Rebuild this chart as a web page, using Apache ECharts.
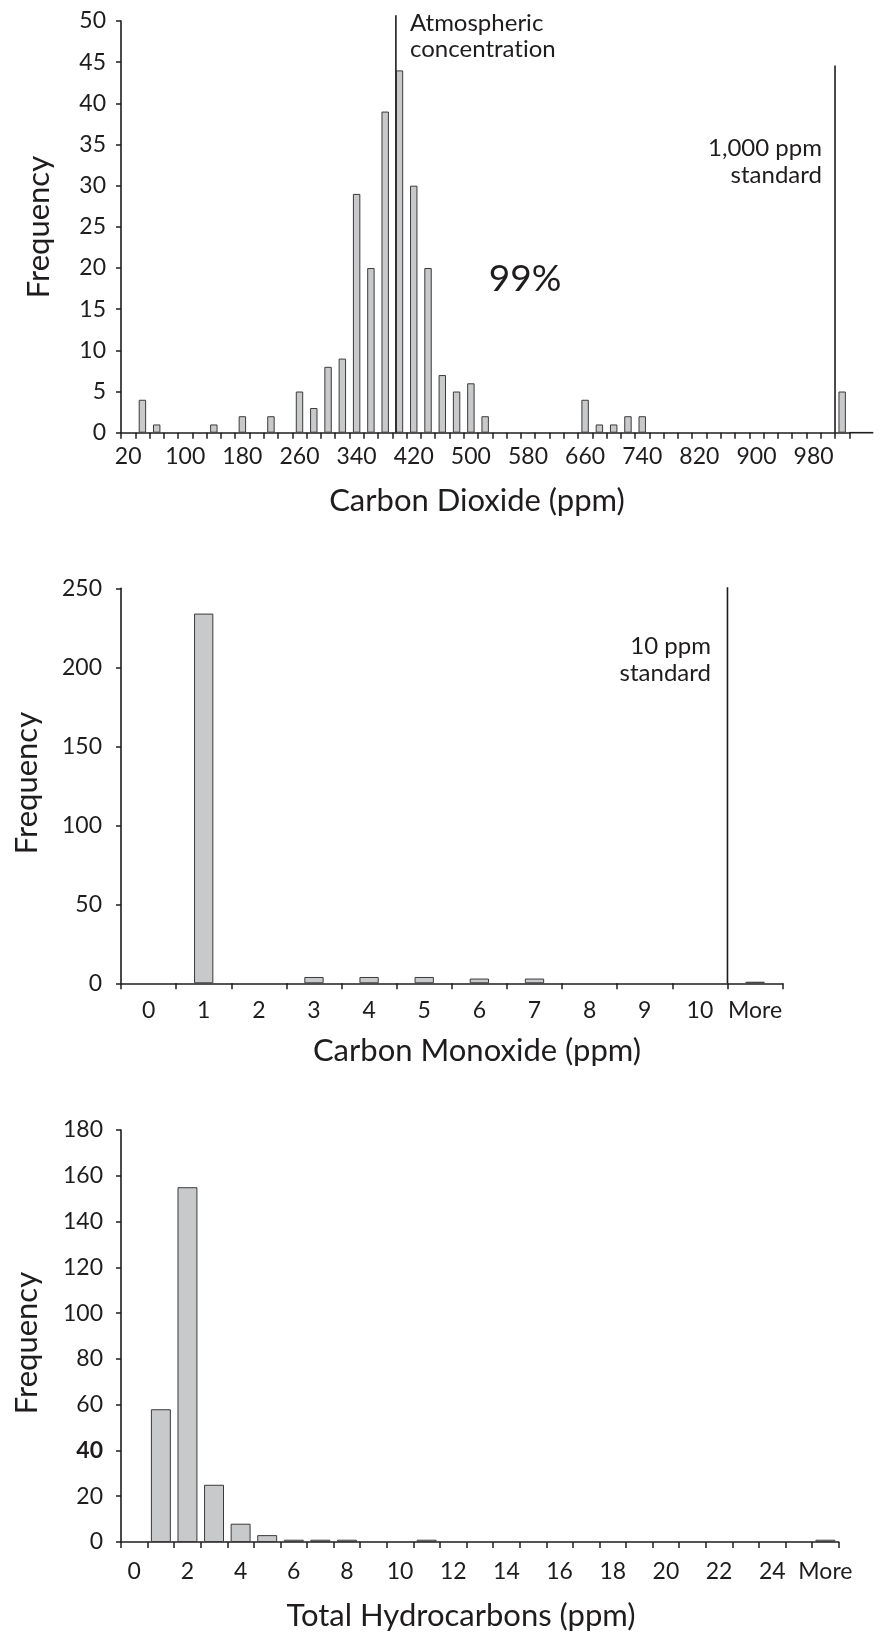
<!DOCTYPE html>
<html>
<head>
<meta charset="utf-8">
<title>Indoor air quality histograms</title>
<script src="https://cdn.jsdelivr.net/npm/echarts@6/dist/echarts.min.js"></script>
<style>
  html, body { margin: 0; padding: 0; background: #ffffff; }
  #chart { width: 883px; height: 1648px; }
</style>
</head>
<body>
<div id="chart"></div>
<script>
// ---- Carbon dioxide: bins of 20 ppm, labelled by their upper edge ----
const co2Bins = [];
for (let b = 20; b <= 1000; b += 20) co2Bins.push(String(b));
co2Bins.push('More');
const co2Freq = [
  0, 4, 1, 0, 0, 0, 1, 0, 2, 0,
  2, 0, 5, 3, 8, 9, 29, 20, 39, 44,
  30, 20, 7, 5, 6, 2, 0, 0, 0, 0,
  0, 0, 4, 1, 1, 2, 2, 0, 0, 0,
  0, 0, 0, 0, 0, 0, 0, 0, 0, 0,
  5
];
const co2Atmospheric = 385;   // ppm
const co2Standard = 1000;     // ppm

// ---- Carbon monoxide: 1 ppm bins ----
const coBins = ['0', '1', '2', '3', '4', '5', '6', '7', '8', '9', '10', 'More'];
const coFreq = [0, 234, 0, 4, 4, 4, 3, 3, 0, 0, 0, 1];
const coStandard = 10;        // ppm

// ---- Total hydrocarbons: 1 ppm bins ----
const thcBins = [];
for (let b = 0; b <= 25; b++) thcBins.push(String(b));
thcBins.push('More');
const thcFreq = [
  0, 58, 155, 25, 8, 3, 1, 1, 1, 0,
  0, 1, 0, 0, 0, 0, 0, 0, 0, 0,
  0, 0, 0, 0, 0, 0, 1
];

// ---- styling ----
const INK = '#1f1c1d';
const FONT = 'Lato, "Noto Sans", sans-serif';
const TICK_FONT = 23;
const TITLE_FONT = 31;
const NOTE_FONT = 24;
const BAR_STYLE = { color: '#c8c9cb', borderColor: '#3a3a3a', borderWidth: 1 };

// empty bins draw nothing
const bars = arr => arr.map(v => (v === 0 ? '-' : v));

function catAxis(gridIndex, data, labelInterval, labelMargin) {
  return {
    type: 'category', gridIndex, data,
    boundaryGap: true,
    axisLine: { show: true, lineStyle: { color: INK, width: 1.6 } },
    axisTick: { show: true, interval: 0, length: 6, lineStyle: { color: INK, width: 1.5 } },
    axisLabel: { interval: labelInterval, margin: labelMargin, color: INK, fontFamily: FONT, fontSize: TICK_FONT },
    splitLine: { show: false }
  };
}
function valAxis(gridIndex, max, interval, labelMargin, extraLabel) {
  return {
    type: 'value', gridIndex, min: 0, max, interval,
    axisLine: { show: true, onZero: false, lineStyle: { color: INK, width: 1.6 } },
    axisTick: { show: true, length: 5, lineStyle: { color: INK, width: 1.5 } },
    axisLabel: Object.assign(
      { margin: labelMargin, color: INK, fontFamily: FONT, fontSize: TICK_FONT },
      extraLabel || {}
    ),
    splitLine: { show: false }
  };
}
// hidden value axis measured in ppm, spanning the bins edge to edge
function ppmAxis(gridIndex, min, max) {
  return { type: 'value', gridIndex, min, max, show: false };
}
function vline(xAxisIndex, yAxisIndex, x, top) {
  return {
    type: 'line', xAxisIndex, yAxisIndex, clip: false, silent: true,
    symbol: 'none', animation: false,
    lineStyle: { color: INK, width: 1.6 },
    data: [[x, 0], [x, top]]
  };
}
function text(x, y, str, size, align, rotation) {
  return {
    type: 'text', x, y, rotation: rotation || 0,
    style: {
      text: str, fill: INK, font: size + 'px ' + FONT,
      textAlign: align || 'center', textVerticalAlign: 'middle'
    }
  };
}

const chart = echarts.init(document.getElementById('chart'), null, { renderer: 'canvas' });

const option = {
  animation: false,
  backgroundColor: '#ffffff',
  grid: [
    { left: 121, top: 21, width: 728.3, height: 411.7 },
    { left: 121, top: 588.3, width: 661.6, height: 395 },
    { left: 121, top: 1130, width: 717.7, height: 412 }
  ],
  xAxis: [
    catAxis(0, co2Bins, 3, 12),
    catAxis(1, coBins, 0, 16),
    catAxis(2, thcBins, 1, 18),
    ppmAxis(0, 0, co2Bins.length * 20),
    ppmAxis(1, -1, coBins.length - 1)
  ],
  yAxis: [
    valAxis(0, 50, 5, 15),
    valAxis(1, 250, 50, 19),
    valAxis(2, 180, 20, 18, {
      formatter: v => (v === 40 ? '{b|40}' : String(v)),
      rich: { b: { fontWeight: 'bold', fontFamily: FONT, fontSize: TICK_FONT, color: INK } }
    })
  ],
  series: [
    { type: 'bar', xAxisIndex: 0, yAxisIndex: 0, data: bars(co2Freq), barWidth: '52%', itemStyle: BAR_STYLE },
    { type: 'bar', xAxisIndex: 1, yAxisIndex: 1, data: bars(coFreq), barWidth: '35%', itemStyle: BAR_STYLE },
    { type: 'bar', xAxisIndex: 2, yAxisIndex: 2, data: bars(thcFreq), barWidth: '75%', itemStyle: BAR_STYLE },
    vline(3, 0, co2Atmospheric, 50.7),
    vline(3, 0, co2Standard, 44.6),
    vline(4, 1, coStandard, 250.6)
  ],
  graphic: [
    // axis titles
    text(39, 227, 'Frequency', TITLE_FONT, 'center', Math.PI / 2),
    text(477, 501, 'Carbon Dioxide (ppm)', TITLE_FONT),
    text(27, 783, 'Frequency', TITLE_FONT, 'center', Math.PI / 2),
    text(477, 1051, 'Carbon Monoxide (ppm)', TITLE_FONT),
    text(27, 1343, 'Frequency', TITLE_FONT, 'center', Math.PI / 2),
    text(461, 1616, 'Total Hydrocarbons (ppm)', TITLE_FONT),
    // annotations
    text(410, 23, 'Atmospheric', NOTE_FONT, 'left'),
    text(410, 49, 'concentrat\u200Cion', NOTE_FONT, 'left'),
    text(525, 279, '99%', 37),
    text(822, 148, '1,000 ppm', NOTE_FONT, 'right'),
    text(822, 175, 'standard', NOTE_FONT, 'right'),
    text(711, 646, '10 ppm', NOTE_FONT, 'right'),
    text(711, 673, 'standard', NOTE_FONT, 'right')
  ]
};
chart.setOption(option);

// the CO2 baseline runs a little past the last bin
const axisEnd = chart.convertToPixel({ xAxisIndex: 3 }, co2Bins.length * 20);
const axisY = chart.convertToPixel({ yAxisIndex: 0 }, 0);
chart.setOption({
  graphic: option.graphic.concat([{
    type: 'line',
    shape: { x1: axisEnd, y1: axisY, x2: axisEnd + 24, y2: axisY },
    style: { stroke: INK, lineWidth: 1.6 }
  }])
});
</script>
</body>
</html>
